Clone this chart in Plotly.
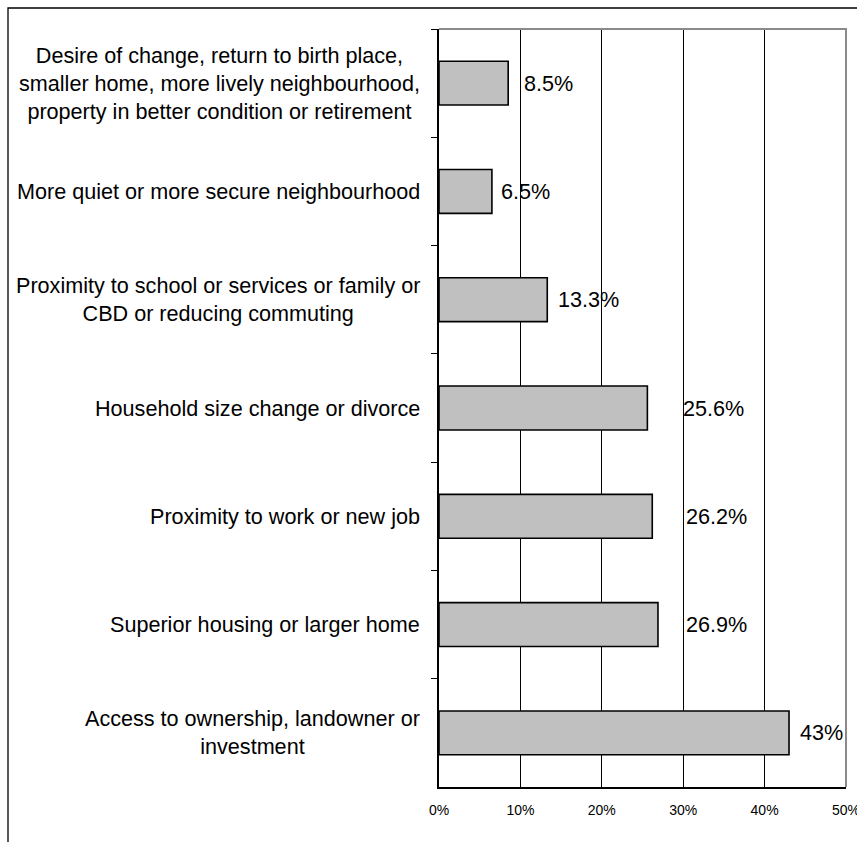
import plotly.graph_objects as go

# ---- data (top to bottom) ----
categories = [
    "Desire of change, return to birth place,<br>smaller home, more lively neighbourhood,<br>property in better condition or retirement",
    "More quiet or more secure neighbourhood",
    "Proximity to school or services or family or<br>CBD or reducing commuting",
    "Household size change or divorce",
    "Proximity to work or new job",
    "Superior housing or larger home",
    "Access to ownership, landowner or<br>investment",
]
values = [8.5, 6.5, 13.3, 25.6, 26.2, 26.9, 43.0]
value_labels = ["8.5%", "6.5%", "13.3%", "25.6%", "26.2%", "26.9%", "43%"]
x_ticks = [0, 10, 20, 30, 40, 50]
x_tick_labels = ["0%", "10%", "20%", "30%", "40%", "50%"]

# ---- style ----
label_shift_px = [14, 7, 9, 34, 32, 26, 9]
FONT = "Liberation Sans, Arial, sans-serif"
W, H = 857, 842
ML, MR, MT, MB = 439, 11, 29, 55
PW, PH = W - ML - MR, H - MT - MB

fig = go.Figure()
fig.add_trace(go.Bar(
    x=values, y=categories, orientation="h",
    width=0.405,
    marker=dict(color="#C0C0C0", line=dict(color="black", width=1.6)),
    hoverinfo="skip",
))

annotations = []
for cat in categories:
    annotations.append(dict(
        x=0, xref="paper", y=cat, yref="y", text=cat, showarrow=False,
        xanchor="right", yanchor="middle", align="center", xshift=-17,
        font=dict(family=FONT, size=21.6, color="black"),
    ))
for cat, v, lab, s in zip(categories, values, value_labels, label_shift_px):
    annotations.append(dict(
        x=v, xref="x", y=cat, yref="y", text=lab, showarrow=False,
        xanchor="left", yanchor="middle", xshift=s,
        font=dict(family=FONT, size=21.6, color="black"),
    ))

# outer frame (left and top edges visible)
fx0 = (8 - ML) / PW
fy1 = 1 + (MT - 8) / PH
shapes = [
    dict(type="path", xref="paper", yref="paper",
         path=f"M {fx0} -0.2 L {fx0} {fy1} L 1.2 {fy1}",
         line=dict(color="black", width=1.3)),
    dict(type="path", xref="paper", yref="paper",
         path="M 0 1 L 1 1 L 1 0",
         line=dict(color="#8a8a8a", width=2), layer="above"),
]

fig.update_layout(
    width=W, height=H,
    margin=dict(l=ML, r=MR, t=MT, b=MB, autoexpand=False),
    paper_bgcolor="white", plot_bgcolor="white",
    showlegend=False,
    annotations=annotations,
    shapes=shapes,
    font=dict(family=FONT, color="black"),
    xaxis=dict(
        range=[0, 50], tickvals=x_ticks, ticktext=x_tick_labels,
        showgrid=True, gridcolor="black", gridwidth=1,
        showline=True, linecolor="black", linewidth=1.5,
        zeroline=False, ticks="", ticklabelstandoff=9,
        ticklabeloverflow="allow", automargin=False,
        tickfont=dict(family=FONT, size=14, color="black"),
        fixedrange=True,
    ),
    yaxis=dict(
        type="category", categoryorder="array", categoryarray=categories,
        range=[len(categories) - 0.5, -0.5],
        tickson="boundaries", ticks="outside", ticklen=6,
        tickcolor="black", tickwidth=1,
        showticklabels=False, showgrid=False,
        showline=True, linecolor="black", linewidth=1.5,
        zeroline=False, fixedrange=True, automargin=False,
    ),
)

fig.write_html("out.html")
